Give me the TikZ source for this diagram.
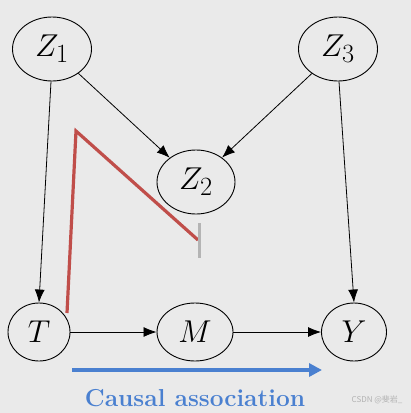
\documentclass[tikz,border=0pt]{standalone}
\usepackage{graphicx}
\usepackage{fontspec}
\newfontfamily\cjk{Noto Sans CJK SC}
\usetikzlibrary{arrows.meta,shapes.geometric}
\definecolor{bg}{RGB}{234,234,234}
\definecolor{redline}{RGB}{192,78,74}
\definecolor{blueline}{RGB}{74,128,208}
\definecolor{graybar}{RGB}{180,180,180}
\newcommand{\vlbl}[1]{\scalebox{1.27}{$#1$}}
\begin{document}
\begin{tikzpicture}[x=1pt,y=-1pt,
  var/.style={draw,ellipse,line width=0.9pt,inner sep=0pt,font=\fontsize{24.88}{30}\selectfont},
  edge/.style={-{Latex[length=13pt,width=10pt]},line width=0.8pt}]
\fill[bg] (0,0) rectangle (411,413);
\useasboundingbox (0,0) rectangle (411,413);
\node[var,minimum width=79pt,minimum height=64pt] (z1) at (52,49) {\vlbl{Z_1}};
\node[var,minimum width=79pt,minimum height=64pt] (z3) at (338,49) {\vlbl{Z_3}};
\node[var,minimum width=78pt,minimum height=64pt] (z2) at (196,182) {\vlbl{Z_2}};
\node[var,minimum width=62pt,minimum height=58pt] (t) at (39,332) {\vlbl{T}};
\node[var,minimum width=76pt,minimum height=58pt] (m) at (195,332) {\vlbl{M}};
\node[var,minimum width=65pt,minimum height=58pt] (y) at (354,332) {\vlbl{Y}};
\draw[edge] (z1.south) ++(-1,0) -- (t.north);
\draw[edge] (z1) -- (z2);
\draw[edge] (z3) -- (z2);
\draw[edge] (z3.south) ++(1,0) -- (y.north);
\draw[edge] (t) -- (m);
\draw[edge] (m) -- (y);
\coordinate (r1) at (67,313);
\coordinate (r2) at (76,131);
\coordinate (r3) at (198,240);
\coordinate (g1) at (199,223);
\coordinate (g2) at (199,258);
\draw[redline,line width=3.2pt,line join=miter] (r1) -- (r2) -- (r3);
\draw[graybar,line width=3pt] (g1) -- (g2);
\coordinate (b1) at (72,370);
\coordinate (b2) at (322,370);
\draw[blueline,line width=4pt,-{Triangle[length=13pt,width=13pt]}] (b1) -- (b2);
\node[text=blueline,font=\bfseries\fontsize{24.5}{28}\selectfont] (ca) at (195,398) {Causal association};
\node[text=gray!60,font=\cjk\fontsize{8}{10}\selectfont,anchor=east] (wm) at (406,400) {CSDN @斐岩\_};
\end{tikzpicture}
\end{document}
